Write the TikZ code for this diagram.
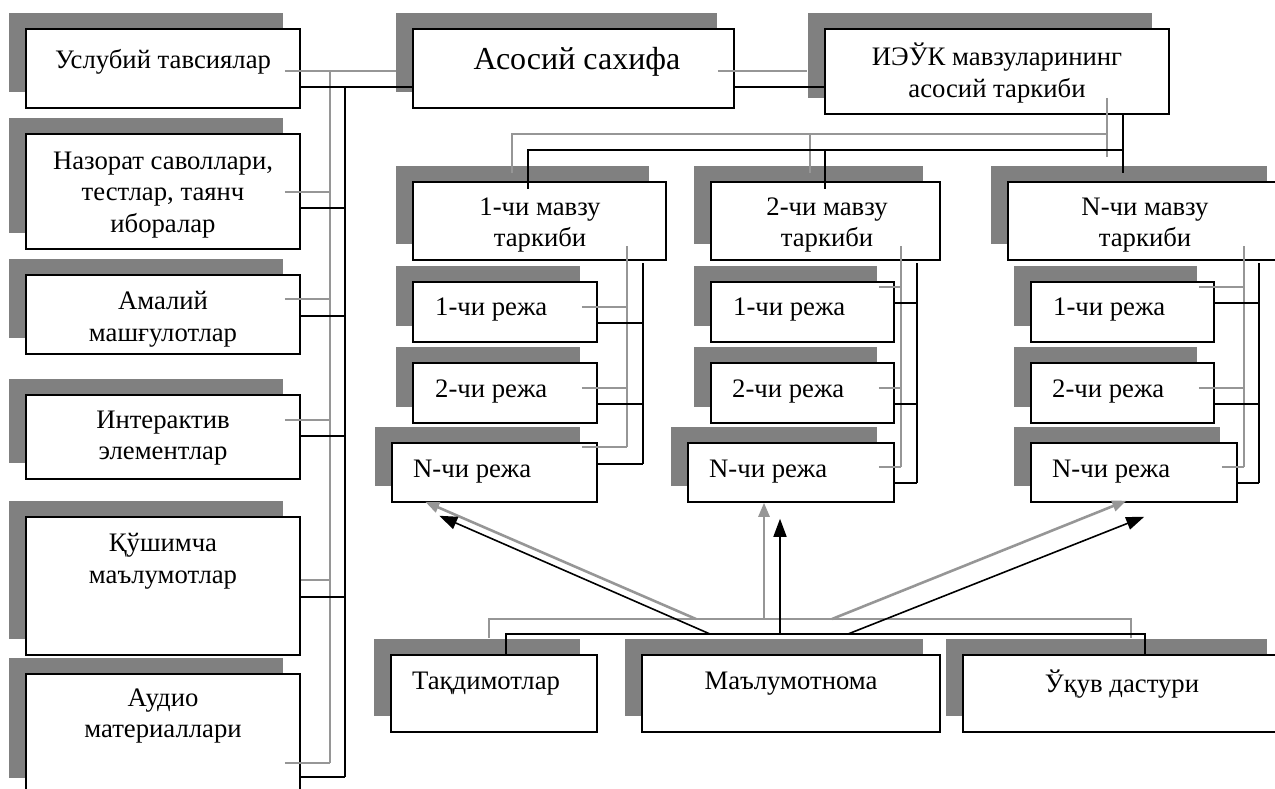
\documentclass[tikz,border=0pt]{standalone}
\usepackage{fontspec}
\setmainfont{Liberation Serif}
\usetikzlibrary{arrows.meta,shadows,fit,calc}

\definecolor{shade}{RGB}{128,128,128}
\definecolor{wire}{RGB}{150,150,150}

\tikzset{
  panel/.style={draw=black, line width=1.5pt, fill=white, inner sep=0pt,
    general shadow={fill=shade, shadow xshift=-17pt, shadow yshift=16pt}},
  gwire/.style={draw=wire, line width=2.6pt},
  bwire/.style={draw=black, line width=1.6pt},
  txt/.style={font=\fontsize{26.7}{31.5}\selectfont, align=center, inner sep=0pt},
  bigtxt/.style={font=\fontsize{32}{38}\selectfont, align=center, inner sep=0pt},
  garrow/.style={gwire, -{Triangle[length=14pt,width=11pt]}},
  barrow/.style={bwire, -{Triangle[length=18pt,width=13pt]}},
}

% a white framed box with its grey shadow, given by its corners
\newcommand\panelbox[5]{\node[panel, fit={(#2,#3) (#4,#5)}] (#1) {};}

\begin{document}
\begin{tikzpicture}[x=1pt,y=-1pt]
\useasboundingbox (0,0) rectangle (1275,789);

% ---------- left column ----------
\panelbox{usl}{26}{29}{300}{108}
\panelbox{naz}{26}{134}{300}{249}
\panelbox{ama}{26}{275}{300}{354}
\panelbox{int}{26}{395}{300}{479}
\panelbox{qush}{26}{517}{300}{655}
\panelbox{aud}{26}{674}{300}{794}

% ---------- top row ----------
\panelbox{asos}{413}{29}{734}{108}
\panelbox{ieuk}{825}{29}{1169}{114}

% ---------- topics ----------
\panelbox{m1}{413}{182}{666}{260}
\panelbox{m2}{711}{182}{940}{260}
\panelbox{mN}{1008}{182}{1284}{260}

\panelbox{r11}{413}{282}{597}{342}
\panelbox{r12}{413}{363}{597}{423}
\panelbox{r1N}{392}{443}{597}{502}

\panelbox{r21}{711}{282}{894}{342}
\panelbox{r22}{711}{363}{894}{423}
\panelbox{r2N}{688}{443}{894}{502}

\panelbox{r31}{1031}{282}{1214}{342}
\panelbox{r32}{1031}{363}{1214}{423}
\panelbox{r3N}{1031}{443}{1237}{502}

% ---------- bottom row ----------
\panelbox{taq}{391}{655}{597}{732}
\panelbox{mal}{642}{655}{940}{732}
\panelbox{uquv}{963}{655}{1284}{732}

% ---------- texts ----------
\node[txt] (usl-t) at (163,62) {Услубий тавсиялар};
\node[txt] (naz-t) at (163,195) {Назорат саволлари,\\тестлар, таянч\\иборалар};
\node[txt] (ama-t) at (163,319) {Амалий\\машғулотлар};
\node[txt] (int-t) at (163,438) {Интерактив\\элементлар};
\node[txt] (qush-t) at (163,561) {Қўшимча\\маълумотлар};
\node[txt] (aud-t) at (163,716) {Аудио\\материаллари};

\node[bigtxt] (asos-t) at (577,62) {Асосий сахифа};
\node[txt] (ieuk-t) at (997,73) {ИЭЎК мавзуларининг\\асосий таркиби};

\node[txt] (m1-t) at (540,225) {1-чи мавзу\\таркиби};
\node[txt] (m2-t) at (827,225) {2-чи мавзу\\таркиби};
\node[txt] (mN-t) at (1145,225) {N-чи мавзу\\таркиби};

\node[txt, anchor=west] (r11-t) at (435,310) {1-чи режа};
\node[txt, anchor=west] (r12-t) at (435,392) {2-чи режа};
\node[txt, anchor=west] (r1N-t) at (413,472) {N-чи режа};
\node[txt, anchor=west] (r21-t) at (733,310) {1-чи режа};
\node[txt, anchor=west] (r22-t) at (732,392) {2-чи режа};
\node[txt, anchor=west] (r2N-t) at (709,472) {N-чи режа};
\node[txt, anchor=west] (r31-t) at (1053,310) {1-чи режа};
\node[txt, anchor=west] (r32-t) at (1052,392) {2-чи режа};
\node[txt, anchor=west] (r3N-t) at (1052,472) {N-чи режа};

\node[txt, anchor=west] (taq-t) at (412,684) {Тақдимотлар};
\node[txt] (mal-t) at (791,684) {Маълумотнома};
\node[txt] (uquv-t) at (1122,684) {Ўқув дастури};

% ---------- left column buses ----------
\coordinate (lg) at (330,71);
\coordinate (lb) at (345,87);
\draw[gwire] (lg) -- (lg |- 0,763);
\draw[bwire] (lb) -- (lb |- 0,777);
\foreach \n/\g/\b in {usl/71/87, naz/192/208, ama/299/316, int/420/436, aud/763/777}{
  \draw[gwire] ($(\n.east |- 0,\g)+(-16,0)$) -- (lg |- 0,\g);
  \draw[bwire] (\n.east |- 0,\b) -- (lb |- 0,\b);
}
\draw[gwire] (qush.east |- 0,580) -- (lg |- 0,580);
\draw[bwire] (qush.east |- 0,597) -- (lb |- 0,597);

% ---------- top row links ----------
\draw[gwire] (lg) -- ($(asos.west |- 0,71)+(-16,0)$);
\draw[bwire] (lb) -- (asos.west |- 0,87);
\draw[gwire] ($(asos.east |- 0,71)+(-17,0)$) -- ($(ieuk.west |- 0,71)+(-17,0)$);
\draw[bwire] (asos.east |- 0,87) -- (ieuk.west |- 0,87);

% ---------- contents box to topics ----------
\coordinate (tg) at (1107,134);
\coordinate (tb) at (1123,150);
\draw[gwire] (tg |- 0,98) -- (tg |- 0,157);
\draw[gwire] (512,173) |- (tg);
\draw[gwire] (810,134) -- (810,173);
\draw[bwire] (ieuk.south -| tb) -- (tb |- 0,173);
\draw[bwire] (528,189) |- (tb);
\draw[bwire] (825,150) -- (825,189);

% ---------- topic 1 ----------
\coordinate (c1g) at (627,246);
\coordinate (c1b) at (643,263);
\draw[gwire] (c1g) -- (c1g |- 0,447);
\draw[bwire] (c1b) -- (c1b |- 0,464);
\foreach \n/\g/\b in {r11/307/323, r12/388/404, r1N/447/464}{
  \draw[gwire] ($(\n.east |- 0,\g)+(-16,0)$) -- (c1g |- 0,\g);
  \draw[bwire] (\n.east |- 0,\b) -- (c1b |- 0,\b);
}

% ---------- topic 2 ----------
\coordinate (c2g) at (901,246);
\coordinate (c2b) at (917,263);
\draw[gwire] (c2g) -- (c2g |- 0,467);
\draw[bwire] (c2b) -- (c2b |- 0,483);
\foreach \n/\g/\b in {r21/287/303, r22/388/404, r2N/467/483}{
  \draw[gwire] ($(\n.east |- 0,\g)+(-16,0)$) -- (c2g |- 0,\g);
  \draw[bwire] (\n.east |- 0,\b) -- (c2b |- 0,\b);
}

% ---------- topic N ----------
\coordinate (c3g) at (1244,246);
\coordinate (c3b) at (1259,263);
\draw[gwire] (c3g) -- (c3g |- 0,467);
\draw[bwire] (c3b) -- (c3b |- 0,483);
\foreach \n/\g/\b in {r31/287/303, r32/388/404, r3N/467/483}{
  \draw[gwire] ($(\n.east |- 0,\g)+(-16,0)$) -- (c3g |- 0,\g);
  \draw[bwire] (\n.east |- 0,\b) -- (c3b |- 0,\b);
}

% ---------- bottom buses ----------
\coordinate (bg) at (489,619);
\coordinate (bb) at (506,634);
\draw[gwire] (bg |- 0,638) |- (1131,619) -- (1131,638);
\draw[bwire] (taq.north -| bb) |- (1145,634) -- (uquv.north -| 1145,0);

% ---------- arrows to the last plans ----------
\coordinate (ag1) at (696,619);
\coordinate (ag2) at (764,619);
\coordinate (ag3) at (832,619);
\coordinate (ab1) at (710,634);
\coordinate (ab2) at (780,634);
\coordinate (ab3) at (848,634);
\draw[garrow] (ag1) -- ($(r1N.south west)+(34,-1)$);
\draw[barrow] (ab1) -- ($(r1N.south west)+(48,13)$);
\draw[garrow] (ag2) -- (r2N.south -| ag2);
\draw[barrow] (ab2) -- ($(r2N.south -| ab2)+(0,16)$);
\draw[garrow] (ag3) -- ($(r3N.south west)+(96,-2)$);
\draw[barrow] (ab3) -- ($(r3N.south west)+(114,14)$);
\end{tikzpicture}
\end{document}
